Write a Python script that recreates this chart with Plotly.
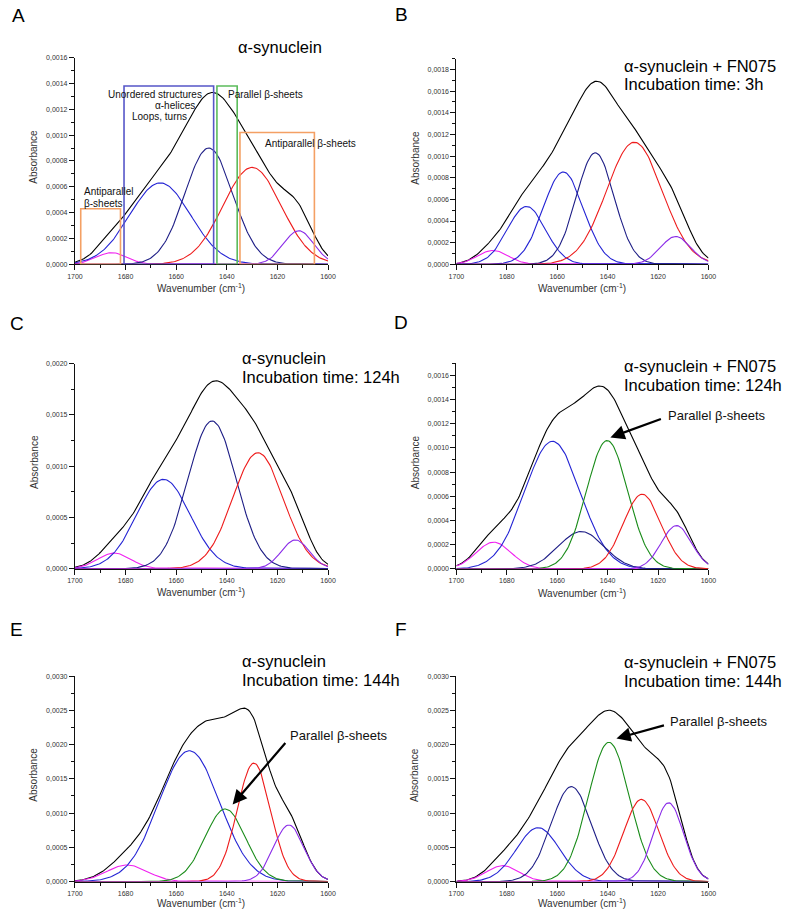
import numpy as np
import plotly.graph_objects as go

# ---------------- data ----------------
# Fitted amide-I components: centre (cm-1), peak absorbance, gaussian sigma (cm-1)
A_centre = [1685.5, 1666.3, 1647.1, 1630.0, 1611.6]
A_height = [0.00009, 0.00063, 0.00090, 0.00075, 0.00026]
A_sigma = [6.0, 12.0, 9.5, 11.5, 6.0]

B_centre = [1685.5, 1672.2, 1657.6, 1644.9, 1629.4, 1613.0]
B_height = [0.000128, 0.000535, 0.000853, 0.00103, 0.001128, 0.000257]
B_sigma = [6.0, 7.5, 8.0, 7.5, 11.0, 6.0]

C_centre = [1684.5, 1665.0, 1645.8, 1627.7, 1612.9]
C_height = [0.000152, 0.000871, 0.00144, 0.00113, 0.00028]
C_sigma = [6.5, 10.5, 9.5, 10.0, 5.5]

D_centre = [1685.2, 1661.9, 1650.5, 1640.2, 1626.3, 1612.7]
D_height = [0.000221, 0.001054, 0.000309, 0.00106, 0.000617, 0.000358]
D_sigma = [7.0, 11.0, 9.0, 8.2, 7.5, 6.0]

E_centre = [1679.4, 1654.8, 1640.6, 1629.3, 1615.5]
E_height = [0.000242, 0.00191, 0.00106, 0.00173, 0.000826]
E_sigma = [8.0, 12.0, 8.0, 6.6, 6.0]

F_centre = [1681.6, 1667.6, 1654.4, 1639.5, 1626.6, 1615.8]
F_height = [0.000232, 0.000787, 0.001386, 0.002034, 0.0012, 0.00115]
F_sigma = [6.5, 8.5, 8.0, 8.2, 7.0, 6.0]

# spectral regions marked in panel A: (from, to, top absorbance)
A_regions_unordered = [1680.6, 1645.2, 0.00138]
A_regions_parallel = [1643.9, 1635.9, 0.00138]
A_regions_antipar_low = [1634.8, 1605.4, 0.00102]
A_regions_antipar_high = [1697.7, 1682.0, 0.00043]

# arrow targets (wavenumber, absorbance) for "Parallel β-sheets"
D_arrow = [1638.9, 0.001086]
E_arrow = [1637.7, 0.001125]
F_arrow = [1636.5, 0.00209]

titles = {
    "A": ["α-synuclein"],
    "B": ["α-synuclein + FN075", "Incubation time: 3h"],
    "C": ["α-synuclein", "Incubation time: 124h"],
    "D": ["α-synuclein + FN075", "Incubation time: 124h"],
    "E": ["α-synuclein", "Incubation time: 144h"],
    "F": ["α-synuclein + FN075", "Incubation time: 144h"],
}

# ---------------- styles ----------------
MAG, BLUE, NAVY, RED, GREEN, VIO = "#f020f0", "#2424d4", "#1e1e86", "#ee1c1c", "#1a8c1a", "#8a2be8"
colors = {
    "A": [MAG, BLUE, NAVY, RED, VIO],
    "B": [MAG, BLUE, BLUE, NAVY, RED, VIO],
    "C": [MAG, BLUE, NAVY, RED, VIO],
    "D": [MAG, BLUE, NAVY, GREEN, RED, VIO],
    "E": [MAG, BLUE, GREEN, RED, VIO],
    "F": [MAG, BLUE, NAVY, GREEN, RED, VIO],
}
FONT = "Arial, Liberation Sans, sans-serif"
W, H = 787, 917

def px(x, y):
    return x / W, 1 - y / H

# panel geometry (pixels): x-left, x-right, y of zero, y of top, ymax, dtick
geom = {
    "A": (68.3, 326.7, 262.3, 54.0, 0.0016, 0.0002),
    "B": (457.7, 715.0, 262.3, 55.1, 0.0019, 0.0002),
    "C": (68.3, 326.7, 569.0, 362.3, 0.0020, 0.0005),
    "D": (457.7, 715.0, 569.3, 361.8, 0.0017, 0.0002),
    "E": (68.3, 326.7, 884.3, 677.3, 0.0030, 0.0005),
    "F": (457.7, 715.0, 884.3, 677.3, 0.0030, 0.0005),
}
params = {
    "A": (A_centre, A_height, A_sigma),
    "B": (B_centre, B_height, B_sigma),
    "C": (C_centre, C_height, C_sigma),
    "D": (D_centre, D_height, D_sigma),
    "E": (E_centre, E_height, E_sigma),
    "F": (F_centre, F_height, F_sigma),
}

wn = np.arange(1600.0, 1700.01, 0.5)

fig = go.Figure()
layout = dict(
    width=W, height=H, margin=dict(l=0, r=0, t=0, b=0),
    paper_bgcolor="white", plot_bgcolor="white",
    showlegend=False, separators=",.",
    font=dict(family=FONT, color="#222"),
)
annotations = []
shapes = []

for i, name in enumerate(["A", "B", "C", "D", "E", "F"]):
    k = "" if i == 0 else str(i + 1)
    xl, xr, y0, yt, ymax, dt = geom[name]
    cen, hgt, sig = params[name]
    total = np.zeros_like(wn)
    comps = []
    for c, h, s in zip(cen, hgt, sig):
        g = h * np.exp(-((wn - c) ** 2) / (2 * s * s))
        comps.append(g)
        total = total + g
    fig.add_trace(go.Scatter(x=wn, y=total, mode="lines", line=dict(color="black", width=1.1),
                             xaxis="x" + k, yaxis="y" + k, hoverinfo="skip"))
    for g, col in zip(comps, colors[name]):
        fig.add_trace(go.Scatter(x=wn, y=g, mode="lines", line=dict(color=col, width=1.1),
                                 xaxis="x" + k, yaxis="y" + k, hoverinfo="skip"))
    axcommon = dict(showline=True, linecolor="#111", linewidth=1, ticks="outside",
                    ticklen=5, tickwidth=1, tickcolor="#111", showgrid=False, zeroline=False,
                    tickfont=dict(size=7, color="#333", family=FONT))
    layout["xaxis" + k] = dict(axcommon, domain=[xl / W, xr / W], anchor="y" + k,
                               range=[1700, 1600], tickmode="linear", tick0=1600, dtick=20,
                               minor=dict(ticks="outside", ticklen=3, dtick=10, tick0=1600,
                                          tickcolor="#111"))
    layout["yaxis" + k] = dict(axcommon, domain=[1 - y0 / H, 1 - yt / H], anchor="x" + k,
                               range=[0, ymax], tickmode="linear", tick0=0, dtick=dt,
                               tickformat=".4f",
                               minor=dict(ticks="outside", ticklen=3, dtick=dt / 2, tick0=0,
                                          tickcolor="#111"))
    # axis titles
    xa, ya = px(xl - 42, (y0 + yt) / 2 - 4)
    annotations.append(dict(xref="paper", yref="paper", x=xa, y=ya, text="Absorbance",
                            textangle=-90, showarrow=False, xanchor="center", yanchor="middle",
                            font=dict(size=10, color="#333", family=FONT)))
    xa, ya = px((xl + xr) / 2, min(y0 + 24, 906))
    annotations.append(dict(xref="paper", yref="paper", x=xa, y=ya,
                            text="Wavenumber (cm<sup>-1</sup>)", showarrow=False,
                            xanchor="center", yanchor="middle",
                            font=dict(size=10, color="#333", family=FONT)))

# panel letters
for name, (x, y) in {"A": (11, 12), "B": (402, 11), "C": (9, 322),
                     "D": (401, 321), "E": (9, 630), "F": (401, 630)}.items():
    xa, ya = px(x, y)
    annotations.append(dict(xref="paper", yref="paper", x=xa, y=ya, text=name, showarrow=False,
                            xanchor="center", yanchor="middle",
                            font=dict(size=19, color="black", family=FONT)))

# titles
title_pos = {"A": (233, 43), "B": (626.7, 62), "C": (236.7, 357), "D": (626.7, 365),
             "E": (236.7, 662), "F": (626.7, 663.5)}
for name, lines in titles.items():
    x, y = title_pos[name]
    for j, t in enumerate(lines):
        xa, ya = px(x, y + 19 * j)
        annotations.append(dict(xref="paper", yref="paper", x=xa, y=ya, text=t, showarrow=False,
                                xanchor="left", yanchor="middle",
                                font=dict(size=16.5, color="black", family=FONT)))

# panel A structure labels
for t, x, y in [("Unordered structures", 100, 91), ("α-helices", 147.7, 102.5),
                ("Loops, turns", 124.3, 113.3), ("Parallel β-sheets", 222.7, 91),
                ("Antiparallel β-sheets", 260.5, 141), ("Antiparallel", 76, 189.3),
                ("β-sheets", 76, 200.7)]:
    xa, ya = px(x, y)
    annotations.append(dict(xref="paper", yref="paper", x=xa, y=ya, text=t, showarrow=False,
                            xanchor="left", yanchor="middle",
                            font=dict(size=10, color="#111", family=FONT)))

for reg, col in [(A_regions_unordered, "#5656c8"), (A_regions_parallel, "#5cbc5c"),
                 (A_regions_antipar_low, "#f4a064"), (A_regions_antipar_high, "#f4a064")]:
    shapes.append(dict(type="rect", xref="x", yref="y", x0=reg[0], x1=reg[1], y0=0, y1=reg[2],
                       line=dict(color=col, width=1.6), fillcolor="rgba(0,0,0,0)", layer="above"))

# arrows + labels
for (xy, k, ax, ay, lx, ly) in [(D_arrow, "4", 52, -19, 671.7, 415),
                                (E_arrow, "5", 54, -63, 286, 736.7),
                                (F_arrow, "6", 49, -13.5, 673.3, 723.3)]:
    annotations.append(dict(xref="x" + k, yref="y" + k, x=xy[0], y=xy[1], text="",
                            showarrow=True, ax=ax, ay=ay, arrowhead=2, arrowsize=1.3,
                            arrowwidth=2.2, arrowcolor="black", standoff=0))
    xa, ya = px(lx, ly)
    annotations.append(dict(xref="paper", yref="paper", x=xa, y=ya, text="Parallel β-sheets",
                            showarrow=False, xanchor="left", yanchor="middle",
                            font=dict(size=13, color="#111", family=FONT)))

layout["annotations"] = annotations
layout["shapes"] = shapes
fig.update_layout(**layout)
fig.write_html("out.html", config={"displayModeBar": False},
               post_script="document.body.style.margin='0px';document.body.style.overflow='hidden';")
